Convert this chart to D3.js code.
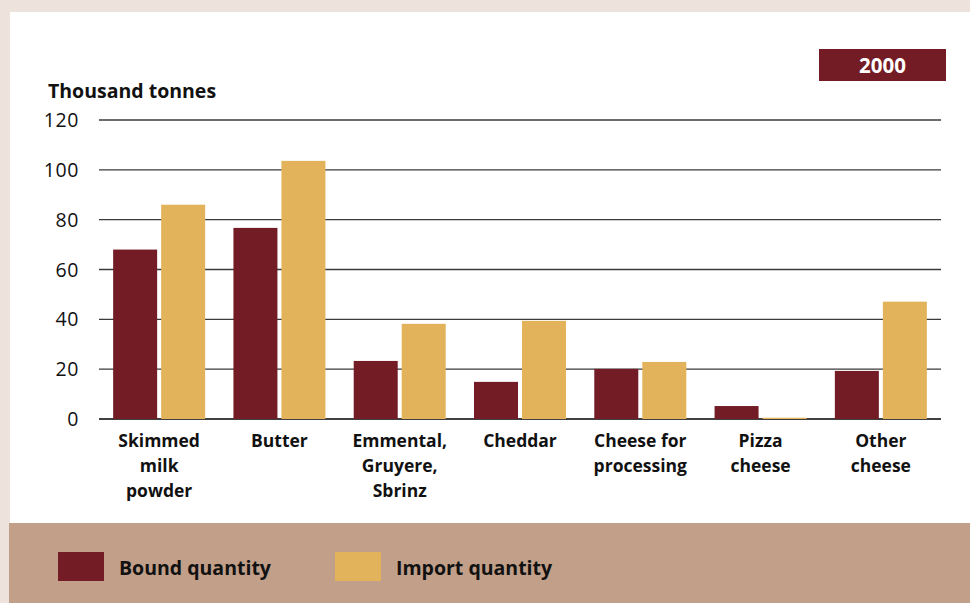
<!DOCTYPE html>
<html>
<head>
<meta charset="utf-8">
<script src="https://cdn.jsdelivr.net/npm/d3@7"></script>
<style>
  html, body { margin: 0; padding: 0; background: #ede3dc; }
  svg { display: block; font-family: "Open Sans", "Noto Sans", sans-serif; }
</style>
</head>
<body>
<svg id="chart" width="970" height="603"></svg>
<script>
// data (thousand tonnes, 2000)
var categories = [
    ["Skimmed", "milk", "powder"],
    ["Butter"],
    ["Emmental,", "Gruyere,", "Sbrinz"],
    ["Cheddar"],
    ["Cheese for", "processing"],
    ["Pizza", "cheese"],
    ["Other", "cheese"]
];
var boundQuantity  = [68, 76.7, 23.3, 14.9, 20.1, 5.2, 19.3];
var importQuantity = [86, 103.6, 38.2, 39.4, 22.9, 0.5, 47.1];
var seriesNames = ["Bound quantity", "Import quantity"];
var yTicks = [0, 20, 40, 60, 80, 100, 120];
var yearLabel = "2000";

var colors = ["#731c26", "#e3b35c"];

var svg = d3.select("#chart");
var width = 970, height = 603;

// background panels
svg.append("rect")
    .attr("x", 0).attr("y", 0)
    .attr("width", width).attr("height", height)
    .attr("fill", "#ede3dc");
svg.append("rect")
    .attr("x", 10).attr("y", 12)
    .attr("width", width - 10).attr("height", 511)
    .attr("fill", "#ffffff");
svg.append("rect")
    .attr("x", 9).attr("y", 523)
    .attr("width", width - 9).attr("height", 80)
    .attr("fill", "#c19f89");

var left_margin = 99, right_edge = 941;
var y0 = 419, yTop = 120;

var keys = categories.map(function(d, i) { return i; });

var x = d3.scaleBand()
    .domain(keys)
    .range([left_margin, right_edge])
    .padding(0);

var y = d3.scaleLinear()
    .domain([0, 120])
    .range([y0, yTop]);

// gridlines
svg.append("g")
    .selectAll("line")
    .data(yTicks)
    .enter()
    .append("line")
    .attr("x1", left_margin)
    .attr("x2", right_edge)
    .attr("y1", function(d) { return y(d); })
    .attr("y2", function(d) { return y(d); })
    .attr("stroke", function(d) { return d === 0 ? "#000" : "#3a3a3a"; })
    .attr("stroke-width", 1.3);

// y tick labels
svg.append("g")
    .selectAll("text")
    .data(yTicks)
    .enter()
    .append("text")
    .attr("x", 79)
    .attr("y", function(d) { return y(d); })
    .attr("dy", "0.36em")
    .attr("text-anchor", "end")
    .attr("font-size", 19.5)
    .attr("letter-spacing", 0.6)
    .attr("fill", "#111")
    .text(function(d) { return d; });

// axis title
svg.append("text")
    .attr("x", 48)
    .attr("y", 98)
    .attr("font-size", 19.5)
    .attr("font-weight", "bold")
    .attr("fill", "#111")
    .text("Thousand tonnes");

// year badge
svg.append("rect")
    .attr("x", 819).attr("y", 49)
    .attr("width", 127).attr("height", 32)
    .attr("fill", colors[0]);
svg.append("text")
    .attr("x", 882.5).attr("y", 65.5)
    .attr("dy", "0.35em")
    .attr("text-anchor", "middle")
    .attr("font-size", 20.5)
    .attr("font-weight", "bold")
    .attr("fill", "#fff")
    .text(yearLabel);

// bars
var barW = 44, gap = 4;
var series = [boundQuantity, importQuantity];
series.forEach(function(values, s) {
    svg.append("g")
        .selectAll("rect")
        .data(values)
        .enter()
        .append("rect")
        .attr("x", function(d, i) {
            var c = x(i) + x.bandwidth() / 2;
            return s === 0 ? c - gap / 2 - barW : c + gap / 2;
        })
        .attr("y", function(d) { return y(d); })
        .attr("width", barW)
        .attr("height", function(d) { return y0 - y(d); })
        .attr("fill", colors[s]);
});

// category labels
var catLabels = svg.append("g")
    .selectAll("text")
    .data(categories)
    .enter()
    .append("text")
    .attr("text-anchor", "middle")
    .attr("font-size", 17.5)
    .attr("font-weight", "bold")
    .attr("fill", "#111");
catLabels.each(function(lines, i) {
    var t = d3.select(this);
    lines.forEach(function(line, k) {
        t.append("tspan")
            .attr("x", x(i) + x.bandwidth() / 2)
            .attr("y", 447 + k * 25)
            .text(line);
    });
});

// legend
var legendX = [58, 335];
seriesNames.forEach(function(name, s) {
    svg.append("rect")
        .attr("x", legendX[s]).attr("y", 552)
        .attr("width", 46).attr("height", 29)
        .attr("fill", colors[s]);
    svg.append("text")
        .attr("x", legendX[s] + 61)
        .attr("y", 568)
        .attr("dy", "0.35em")
        .attr("font-size", 19.5)
        .attr("font-weight", "bold")
        .attr("fill", "#111")
        .text(name);
});
</script>
</body>
</html>
